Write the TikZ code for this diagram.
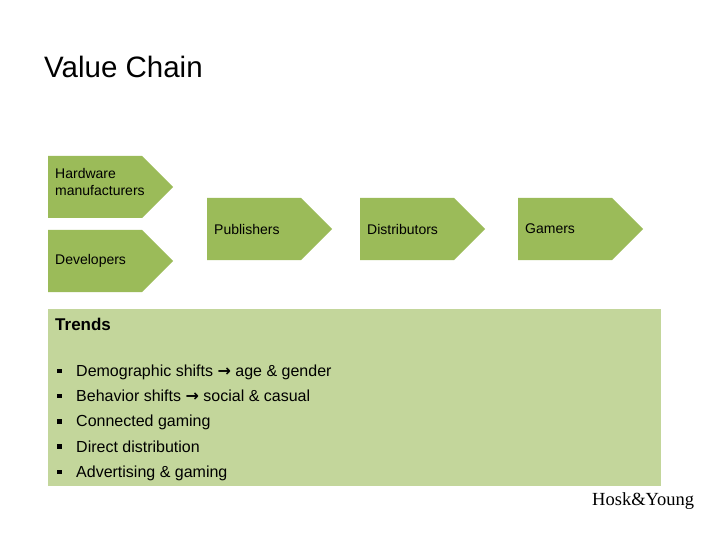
\documentclass[tikz,border=0pt]{standalone}
\usepackage{fontspec}
\setmainfont{Liberation Sans}
\newfontfamily\hyserif{Liberation Serif}
\newfontfamily\hysym{DejaVu Sans}
\usetikzlibrary{shapes.symbols}
\definecolor{chevgreen}{HTML}{9BBB59}
\definecolor{trendgreen}{HTML}{C3D69B}

\begin{document}
\begin{tikzpicture}[
    x=1pt, y=-1pt,
    chev/.style={shape=signal, signal to=east, signal pointer angle=90,
      fill=chevgreen, minimum height=62pt, text width=80pt,
      inner xsep=7pt, inner ysep=0pt, align=left, anchor=west,
      font=\fontsize{14}{17}\selectfont},
    txt/.style={inner sep=0pt, anchor=base west},
    trenditem/.style={txt, font=\fontsize{16}{19}\selectfont},
    bullet/.style={fill=black, inner sep=0pt, minimum size=4.5pt}
  ]
  \useasboundingbox (0,0) rectangle (720,540);

  % ---- Title ----
  \node[txt, font=\fontsize{29.5}{35}\selectfont] (title) at (44,78) {Value Chain};

  % ---- Value chain ----
  \node[chev, text depth=28pt] (hw) at (48,187) {Hardware\\\mbox{manufacturers}};
  \node[chev] (dev)  at (48,261)  {Developers};
  \node[chev] (pub)  at (207,229) {Publishers};
  \node[chev] (dist) at (360,229) {Distributors};
  \node[chev] (gam)  at (518,229) {Gamers};

  % ---- Trends ----
  \node[fill=trendgreen, minimum width=613pt, minimum height=177pt,
    inner sep=0pt, anchor=north west] (trendbox) at (48,309) {};
  \node[txt, font=\bfseries\fontsize{17}{20}\selectfont] (trendhead) at (55,330) {Trends};

  \foreach \i/\t in {0/{Demographic shifts {\hysym\textbf{→}} age \& gender},
                     1/{Behavior shifts {\hysym\textbf{→}} social \& casual},
                     2/{Connected gaming},
                     3/{Direct distribution},
                     4/{Advertising \& gaming}} {
    \node[bullet] (b\i) at (59.5,371+25.2*\i) {};
    \node[trenditem] (t\i) at (76,376.5+25.2*\i) {\t};
  }

  % Label
  \node[txt, font=\hyserif\fontsize{18.5}{22}\selectfont] (credit) at (592,505) {Hosk\&Young};
\end{tikzpicture}
\end{document}
